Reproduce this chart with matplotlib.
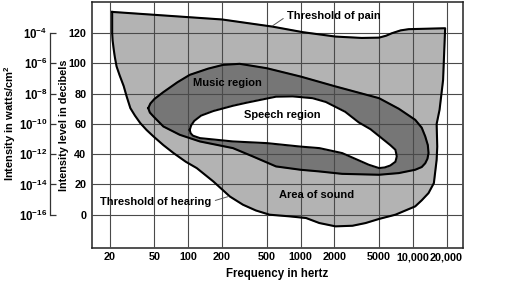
import matplotlib.pyplot as plt
from matplotlib.ticker import NullLocator

# area of sound, clockwise from top left (Hz, dB)
sound_f = [21, 200, 560, 1050, 2050, 3500, 5000, 5800, 6500, 7800, 9200, 19400,
           18600, 17300, 16300, 16500, 16300, 15400, 13800, 12000, 10500, 7000,
           5000, 3800, 2900, 2050, 1470, 1120, 800, 530, 400, 307, 235, 167,
           119, 95, 74, 60, 49, 42.5, 37.4, 33.5, 30.5, 28.3, 26.6, 24.5, 23,
           22.2, 21.7, 21.2, 21]
sound_db = [134, 129, 124.3, 120.6, 117.7, 116.8, 117, 118.3, 119.9, 121.8, 122.6, 123.2,
            89, 69.3, 60, 45, 36.3, 20.9, 14.3, 9.5, 5.5, 0,
            -2.8, -5.5, -7.3, -7.7, -5.5, -2.2, -1.1, 0, 2.8, 6.6, 12, 22,
            30.8, 35, 40.7, 46, 51.7, 56, 60.5, 65.5, 70.4, 78, 85, 92, 97.9,
            104, 109, 115, 120]

# music region
music_f = [44, 46, 50, 60, 80, 103, 150, 204, 287, 500, 1000, 2060, 5000, 7500,
           10500, 12000, 12900, 13600, 13800, 13500, 12900, 12000, 10500, 7500,
           5000, 2350, 1470, 1000, 605, 376, 250, 127, 84, 60, 49, 45.5]
music_db = [70.4, 73.5, 76.5, 81, 87.5, 92.4, 96.5, 99, 99.7, 96.8, 91.3, 84.7, 77, 70,
            62.7, 57.5, 51.7, 46, 40.7, 37, 34, 31.5, 29.7, 27.5,
            26.4, 27, 28.6, 29.7, 31.9, 38.5, 44, 48.4, 52.8, 58.3, 64.9, 67.5]

# speech region
speech_f = [103, 106, 113, 130, 167, 250, 330, 605, 850, 1280, 1680, 2500, 3300,
            4200, 5000, 6300, 7000, 7200, 7000, 6300, 5600, 5000, 4050, 2350,
            1470, 1000, 500, 250, 127, 110, 105]
speech_db = [56, 59, 62, 65.5, 68.5, 72, 74, 78, 78.2, 77, 74.5, 68, 61,
             56.5, 52, 46, 42.9, 38.5, 35, 32.5, 31.2, 30.8, 33, 40.7,
             44, 45, 47.3, 48.4, 50.6, 52.2, 53.8]

freq_ticks = [20, 50, 100, 200, 500, 1000, 2000, 5000, 10000, 20000]
freq_labels = ["20", "50", "100", "200", "500", "1000", "2000", "5000",
               "10,000", "20,000"]
db_ticks = [0, 20, 40, 60, 80, 100, 120]
watt_labels = [r"$10^{-16}$", r"$10^{-14}$", r"$10^{-12}$", r"$10^{-10}$",
               r"$10^{-8}$", r"$10^{-6}$", r"$10^{-4}$"]

plt.rcParams['font.family'] = ['Liberation Sans Narrow', 'Liberation Sans', 'DejaVu Sans']
plt.rcParams['font.weight'] = 'bold'
plt.rcParams['axes.labelweight'] = 'bold'
plt.rcParams['mathtext.fontset'] = 'custom'
plt.rcParams['mathtext.rm'] = 'Liberation Sans:bold'
plt.rcParams['mathtext.it'] = 'Liberation Sans:bold'
plt.rcParams['mathtext.bf'] = 'Liberation Sans:bold'
plt.rcParams['mathtext.default'] = 'bf'

num_font = dict(family=['Liberation Sans', 'DejaVu Sans'], weight='bold', size=7.8)

fig = plt.figure(figsize=(5.23, 2.97), dpi=100)
ax = fig.add_axes([0.176, 0.165, 0.709, 0.828])

light = "#b3b3b3"
dark = "#767676"
ax.fill(sound_f, sound_db, color=light, zorder=1)
ax.fill(music_f, music_db, color=dark, zorder=1.1)
ax.fill(speech_f, speech_db, color="white", zorder=1.2)
for f, d in [(sound_f, sound_db), (music_f, music_db), (speech_f, speech_db)]:
    ax.plot(f + f[:1], d + d[:1], color="black", lw=1.5, zorder=3,
            solid_joinstyle="round")

ax.set_xscale("log")
ax.set_xlim(13.9, 27900)
ax.set_ylim(-22, 140.5)
ax.xaxis.set_minor_locator(NullLocator())
ax.set_xticks(freq_ticks)
ax.set_xticklabels(freq_labels, fontdict=num_font)
ax.set_yticks(db_ticks)
ax.set_yticklabels([str(v) for v in db_ticks], fontdict=num_font)
ax.tick_params(length=0)
ax.tick_params(axis="y", pad=4)
ax.tick_params(axis="x", pad=3)
ax.grid(True, color="#4a4a4a", lw=0.8)
ax.set_axisbelow(False)
for s in ax.spines.values():
    s.set_color("#222222")
    s.set_linewidth(1.1)

ax.set_xlabel("Frequency in hertz", fontsize=8.3, labelpad=4)
ax.set_ylabel("Intensity level in decibels", fontsize=7.8)
ax.yaxis.set_label_coords(-0.062, 0.5)

# watts/cm2 bracket scale
sec = ax.secondary_yaxis(-0.113)
sec.set_yticks(db_ticks)
sec.set_yticklabels(watt_labels, fontsize=8.3)
sec.tick_params(direction="in", length=4, width=0.9, pad=2, color="#333333")
sec.spines["left"].set_bounds(0, 120)
sec.spines["left"].set_color("#333333")
sec.spines["left"].set_linewidth(0.9)
fig.text(0.02, 0.585, "Intensity in watts/cm$^2$", rotation=90,
         ha="center", va="center", fontsize=8, fontweight="bold")

ax.text(225, 87, "Music region", ha="center", va="center", fontsize=8, zorder=4)
ax.text(688, 66, "Speech region", ha="center", va="center", fontsize=8, zorder=4)
ax.text(1377, 13.2, "Area of sound", ha="center", va="center", fontsize=8, zorder=4)
ax.annotate("Threshold of pain", xy=(563, 124.8), xytext=(760, 131.4),
            ha="left", va="center", fontsize=8, zorder=4,
            arrowprops=dict(arrowstyle="-", color="#555555", lw=0.7,
                            relpos=(0, 0.5), shrinkA=1, shrinkB=0))
ax.annotate("Threshold of hearing", xy=(225, 11.9), xytext=(160, 8.6),
            ha="right", va="center", fontsize=8, zorder=4,
            arrowprops=dict(arrowstyle="-", color="#555555", lw=0.7,
                            relpos=(1, 0.5), shrinkA=1, shrinkB=0))

fig.savefig("out.png", dpi=100)
